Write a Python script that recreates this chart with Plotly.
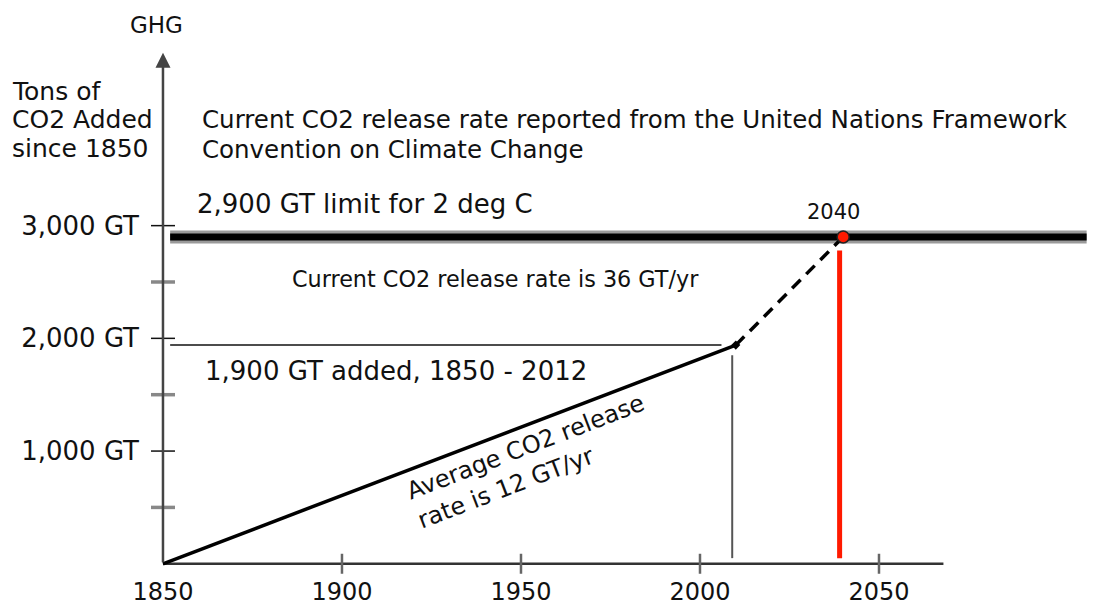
import plotly.graph_objects as go

# ---- data ----
years_hist = [1850, 2010]          # average-rate segment
ghg_hist = [0, 1940]
years_proj = [2010, 2040]          # current-rate projection
ghg_proj = [1940, 2900]
limit_years = [1852, 2108]
limit_value = [2900, 2900]
hist_ref_years = [1852, 2006]      # thin line at the 1,900 GT level
hist_ref_value = [1940, 1940]
hist_mark_year = [2009, 2009]
hist_mark_value = [1850, 50]
limit_year_mark = [2039, 2039]
limit_year_value = [2780, 50]
cross_year = [2040]
cross_value = [2900]

x_ticks = [1850, 1900, 1950, 2000, 2050]
x_ticktext = ["1850", "1900", "1950", "2000", "2050"]
y_ticks = [1000, 2000, 3000]
y_ticktext = ["1,000 GT", "2,000 GT", "3,000 GT"]
y_minor = [500, 1500, 2500]

FONT = "DejaVu Sans"

fig = go.Figure()

# thick double limit line
fig.add_trace(go.Scatter(x=limit_years, y=limit_value, mode="lines",
                         line=dict(color="#9a9a9a", width=13), hoverinfo="skip"))
fig.add_trace(go.Scatter(x=limit_years, y=limit_value, mode="lines",
                         line=dict(color="#000000", width=7), hoverinfo="skip"))
# thin reference lines
fig.add_trace(go.Scatter(x=hist_ref_years, y=hist_ref_value, mode="lines",
                         line=dict(color="#111111", width=1.5), hoverinfo="skip"))
fig.add_trace(go.Scatter(x=hist_mark_year, y=hist_mark_value, mode="lines",
                         line=dict(color="#555555", width=2), hoverinfo="skip"))
fig.add_trace(go.Scatter(x=limit_year_mark, y=limit_year_value, mode="lines",
                         line=dict(color="#ff1a00", width=5), hoverinfo="skip"))
# historic solid line
fig.add_trace(go.Scatter(x=years_hist, y=ghg_hist, mode="lines",
                         line=dict(color="#000000", width=3.5), hoverinfo="skip"))
fig.add_trace(go.Scatter(x=[years_hist[-1]], y=[ghg_hist[-1]], mode="markers",
                         marker=dict(color="#000000", size=7, symbol="diamond"),
                         hoverinfo="skip"))
# projected dashed line
fig.add_trace(go.Scatter(x=years_proj, y=ghg_proj, mode="lines",
                         line=dict(color="#000000", width=3.5, dash="12px,8px"),
                         hoverinfo="skip"))
# crossing point
fig.add_trace(go.Scatter(x=cross_year, y=cross_value, mode="markers",
                         marker=dict(color="#ff1a00", size=12,
                                     line=dict(color="#222222", width=1.5)),
                         hoverinfo="skip", cliponaxis=False))

shapes = []
# x axis line
shapes.append(dict(type="line", xref="x", yref="y", x0=1850, x1=2068, y0=0, y1=0,
                   line=dict(color="#333333", width=2.5), layer="below"))
# x ticks crossing axis
for t in x_ticks[1:]:
    shapes.append(dict(type="line", xref="x", yref="y", x0=t, x1=t,
                       ysizemode="pixel", yanchor=0, y0=-10, y1=10,
                       line=dict(color="#666666", width=2.5)))
# y ticks crossing axis
for t in y_ticks:
    shapes.append(dict(type="line", xref="x", yref="y", y0=t, y1=t,
                       xsizemode="pixel", xanchor=1850, x0=-12, x1=12,
                       line=dict(color="#111111", width=1.5)))
for t in y_minor:
    shapes.append(dict(type="line", xref="x", yref="y", y0=t, y1=t,
                       xsizemode="pixel", xanchor=1850, x0=-12, x1=12,
                       line=dict(color="#888888", width=3.5)))

annotations = []
# y axis with arrow
annotations.append(dict(x=1850, y=4534, ax=1850, ay=0, xref="x", yref="y",
                        axref="x", ayref="y", showarrow=True, arrowhead=2,
                        arrowsize=1.2, arrowwidth=2.5, arrowcolor="#444444", text=""))

def txt(text, x, y, size, xanchor="left", align="left", angle=0, xref="x"):
    annotations.append(dict(text=text, x=x, y=y, xref=xref, yref="y",
                            showarrow=False, xanchor=xanchor, yanchor="middle",
                            align=align, textangle=angle,
                            font=dict(family=FONT, size=size, color="#111111")))

txt("GHG", 1848.3, 4781, 23, xanchor="center", align="center")
txt("Tons of", -0.1344, 4190, 25, xref="paper")
txt("CO2 Added", -0.1344, 3943, 25, xref="paper")
txt("since 1850", -0.1344, 3687, 25, xref="paper")
txt("Current CO2 release rate reported from the United Nations Framework",
    1860.3, 3943, 24.5)
txt("Convention on Climate Change", 1860.3, 3678, 24.5)
txt("2,900 GT limit for 2 deg C", 1858.9, 3191, 26)
txt("2040", 2037.2, 3120, 21, xanchor="center", align="center")
txt("Current CO2 release rate is 36 GT/yr", 1885.5, 2529, 22.3)
txt("1,900 GT added, 1850 - 2012", 1861.2, 1710, 26)
txt("Average CO2 release<br>rate is 12 GT/yr", 1952.8, 906, 24,
    xanchor="center", align="left", angle=-21)

fig.update_layout(
    width=1099, height=598,
    margin=dict(l=132, r=0, t=0, b=28),
    paper_bgcolor="white", plot_bgcolor="white",
    showlegend=False,
    shapes=shapes, annotations=annotations,
    xaxis=dict(range=[1843.58, 2113.69], showgrid=False, zeroline=False,
               showline=False, ticks="", tickvals=x_ticks, ticktext=x_ticktext,
               tickfont=dict(family=FONT, size=24, color="#111111")),
    yaxis=dict(range=[-99.7, 4931], showgrid=False, zeroline=False,
               showline=False, ticks="", tickvals=y_ticks, ticktext=y_ticktext,
               tickfont=dict(family=FONT, size=26, color="#111111")),
)

fig.write_html("out.html")
